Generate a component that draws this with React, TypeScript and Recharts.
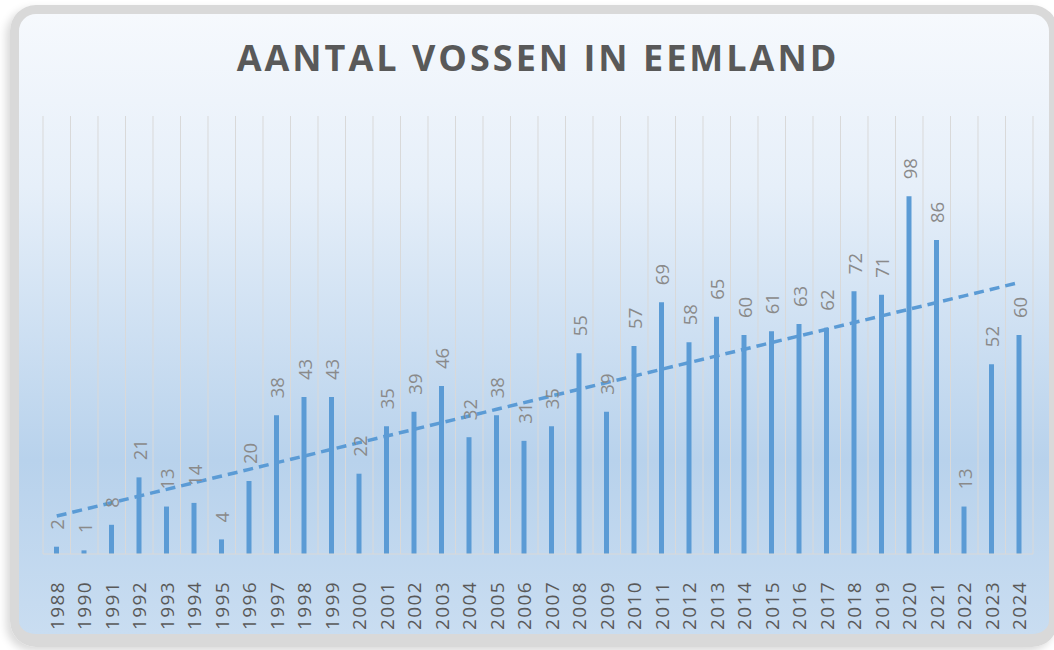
import { Bar, CartesianGrid, ComposedChart, LabelList, Line, XAxis, YAxis } from 'recharts'

const years = [
  '1988', '1990', '1991', '1992', '1993', '1994', '1995', '1996', '1997', '1998',
  '1999', '2000', '2001', '2002', '2003', '2004', '2005', '2006', '2007', '2008',
  '2009', '2010', '2011', '2012', '2013', '2014', '2015', '2016', '2017', '2018',
  '2019', '2020', '2021', '2022', '2023', '2024',
]
const foxes = [
  2, 1, 8, 21, 13, 14, 4, 20, 38, 43,
  43, 22, 35, 39, 46, 32, 38, 31, 35, 55,
  39, 57, 69, 58, 65, 60, 61, 63, 62, 72,
  71, 98, 86, 13, 52, 60,
]
const yDomain = [0, 120]

const WIDTH = 1054
const HEIGHT = 650
const BLUE = '#5b9bd5'
const FONT = '"Open Sans", "DejaVu Sans", sans-serif'

// linear trendline like Excel's (x = 1..n)
function linearFit(values: number[]) {
  const n = values.length
  const xs = values.map((_, i) => i + 1)
  const mx = xs.reduce((a, b) => a + b, 0) / n
  const my = values.reduce((a, b) => a + b, 0) / n
  let num = 0
  let den = 0
  xs.forEach((x, i) => {
    num += (x - mx) * (values[i] - my)
    den += (x - mx) ** 2
  })
  const slope = num / den
  return xs.map((x) => my + slope * (x - mx))
}

const trend = linearFit(foxes)
const data = years.map((year, i) => ({ year, foxes: foxes[i], trend: trend[i] }))

const YearTick = ({ x, y, payload }: any) => (
  <text
    transform={`translate(${x},${y + 19}) rotate(-90)`}
    textAnchor="end"
    dominantBaseline="central"
    fill="#595959"
    fontSize={19}
    letterSpacing={1.4}
    fontFamily={FONT}
  >
    {payload.value}
  </text>
)

const ValueLabel = ({ x, y, width, value }: any) => (
  <text
    transform={`translate(${x + width / 2},${y - 17}) rotate(-90)`}
    textAnchor="start"
    dominantBaseline="central"
    fill="#8a8a8a"
    fontSize={18.5}
    fontFamily={FONT}
  >
    {value}
  </text>
)

export default function App() {
  return (
    <div style={{ position: 'absolute', left: 0, top: 0, width: WIDTH, height: HEIGHT, overflow: 'hidden', background: '#fff' }}>
      <div
        style={{
          position: 'absolute',
          left: 10,
          top: 5,
          width: 1048,
          height: 642,
          boxSizing: 'border-box',
          border: '9px solid #d9d9d9',
          borderBottomWidth: 13,
          borderRadius: 26,
          background: 'linear-gradient(180deg, #f6f9fd 0%, #e6eff9 28%, #b8d2ec 72%, #c9ddf1 100%)',
          boxShadow: '-4px 4px 8px rgba(0,0,0,0.15)',
        }}
      />
      <div
        style={{
          position: 'absolute',
          left: 0,
          top: 36,
          width: 1076,
          textAlign: 'center',
          fontFamily: FONT,
          fontWeight: 700,
          fontSize: 36,
          letterSpacing: 3,
          lineHeight: '44px',
          color: '#595959',
        }}
      >
        AANTAL VOSSEN IN EEMLAND
      </div>
      <div style={{ position: 'absolute', left: 0, top: 0 }}>
        <ComposedChart width={WIDTH} height={HEIGHT} data={data} margin={{ top: 116, right: 21, bottom: 0, left: 43 }}>
          <CartesianGrid
            horizontal={false}
            stroke="#d9d9d9"
            verticalCoordinatesGenerator={({ offset }: any) =>
              Array.from({ length: years.length + 1 }, (_, i) => offset.left + (i * offset.width) / years.length)
            }
          />
          <XAxis
            dataKey="year"
            interval={0}
            height={96}
            tickLine={false}
            axisLine={{ stroke: '#d9d9d9' }}
            tick={<YearTick />}
          />
          <YAxis hide domain={yDomain} />
          <Bar dataKey="foxes" fill={BLUE} barSize={5} isAnimationActive={false}>
            <LabelList dataKey="foxes" content={<ValueLabel />} />
          </Bar>
          <Line
            dataKey="trend"
            type="linear"
            stroke={BLUE}
            strokeWidth={3.5}
            strokeDasharray="10 6"
            dot={false}
            activeDot={false}
            isAnimationActive={false}
          />
        </ComposedChart>
      </div>
    </div>
  )
}
